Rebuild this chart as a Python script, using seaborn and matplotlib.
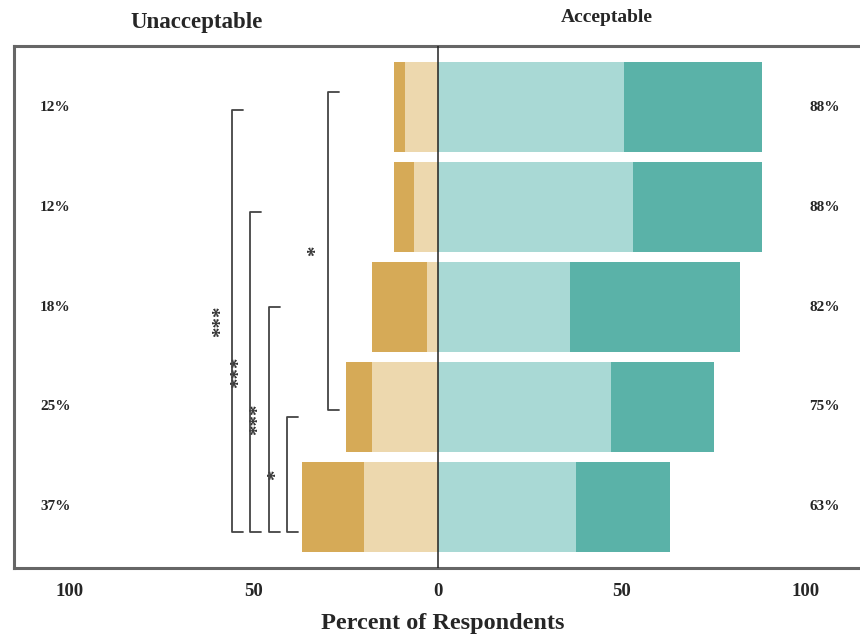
import numpy as np
import pandas as pd
import matplotlib
matplotlib.use("Agg")
import matplotlib.pyplot as plt
import matplotlib.transforms as mtransforms
import seaborn as sns

# rows, top to bottom (the names are cut off in the source picture)
items = ["Item 1", "Item 2", "Item 3", "Item 4", "Item 5"]

# unacceptable side (drawn to the left of 0)
unacc_strong = [3.0, 5.5, 15.0, 7.0, 17.0]
unacc_mild = [9.0, 6.5, 3.0, 18.0, 20.0]
# acceptable side
acc_mild = [50.5, 53.0, 36.0, 47.0, 37.5]
acc_strong = [37.5, 35.0, 46.0, 28.0, 25.5]

left_labels = ["12%", "12%", "18%", "25%", "37%"]
right_labels = ["88%", "88%", "82%", "75%", "63%"]

# significance brackets
br_x = [-56, -51, -46, -41, -30]
br_top = [0.03, 1.05, 2.0, 3.1, -0.15]
br_bottom = [4.25, 4.25, 4.25, 4.25, 3.03]
br_text = ["***", "***", "***", "*", "*"]

c_unacc_strong = "#D6AA57"
c_unacc_mild = "#EDD8AE"
c_acc_mild = "#A9D9D5"
c_acc_strong = "#5AB2A8"

sns.set_theme(style="white")
plt.rcParams["font.family"] = ["Liberation Serif", "DejaVu Serif"]
plt.rcParams["font.weight"] = "bold"

df = pd.DataFrame({
    "item": items,
    "unacc_total": -(np.array(unacc_strong) + np.array(unacc_mild)),
    "unacc_mild": -np.array(unacc_mild),
    "acc_total": np.array(acc_mild) + np.array(acc_strong),
    "acc_mild": acc_mild,
})

fig = plt.figure(figsize=(8.6, 6.41), dpi=100)
ax = fig.add_axes([14 / 860, 0.114, 0.998, 0.814])

# stacked look: full length first, inner segment on top
layers = [("unacc_total", c_unacc_strong), ("unacc_mild", c_unacc_mild),
          ("acc_total", c_acc_strong), ("acc_mild", c_acc_mild)]
for col, colour in layers:
    sns.barplot(data=df, x=col, y="item", orient="h", color=colour,
                saturation=1, width=0.9, errorbar=None, linewidth=0, ax=ax)

ax.axvline(0, color="#222222", lw=1.1, zorder=5)

ax.set_xlim(-115.2, 118)
ax.set_ylim(4.61, -0.61)
ax.set_xticks([-100, -50, 0, 50, 100])
ax.set_xticklabels(["100", "50", "0", "50", "100"], fontsize=13.5, fontweight="bold")
ax.tick_params(axis="x", length=0, pad=11)
ax.set_yticks([])
ax.set_ylabel("")
ax.set_xlabel("Percent of Respondents", fontsize=17.5, fontweight="bold", labelpad=9)

for side in ["top", "left", "bottom", "right"]:
    ax.spines[side].set_color("#666666")
    ax.spines[side].set_linewidth(2.2)

# percent totals on both sides
for i in range(len(items)):
    ax.text(-104, i, left_labels[i], ha="center", va="center", fontsize=11, fontweight="bold")
    ax.text(105, i, right_labels[i], ha="center", va="center", fontsize=11, fontweight="bold")

# significance brackets
for x, t, b, s in zip(br_x, br_top, br_bottom, br_text):
    ax.plot([x + 3, x, x, x + 3], [t, t, b, b], color="#444444", lw=1.3, zorder=4)
    ax.text(x - 3, (t + b) / 2, s, rotation=90, ha="center", va="center",
            fontsize=15, fontweight="bold", color="#333333")

# headers above the frame
trans = mtransforms.blended_transform_factory(ax.transData, ax.transAxes)
ax.text(-65.5, 1.046, "Unacceptable", transform=trans, ha="center", va="center",
        fontsize=16.5, fontweight="bold")
ax.text(46, 1.055, "Acceptable", transform=trans, ha="center", va="center",
        fontsize=14, fontweight="bold")

fig.savefig("out.png", dpi=100)
